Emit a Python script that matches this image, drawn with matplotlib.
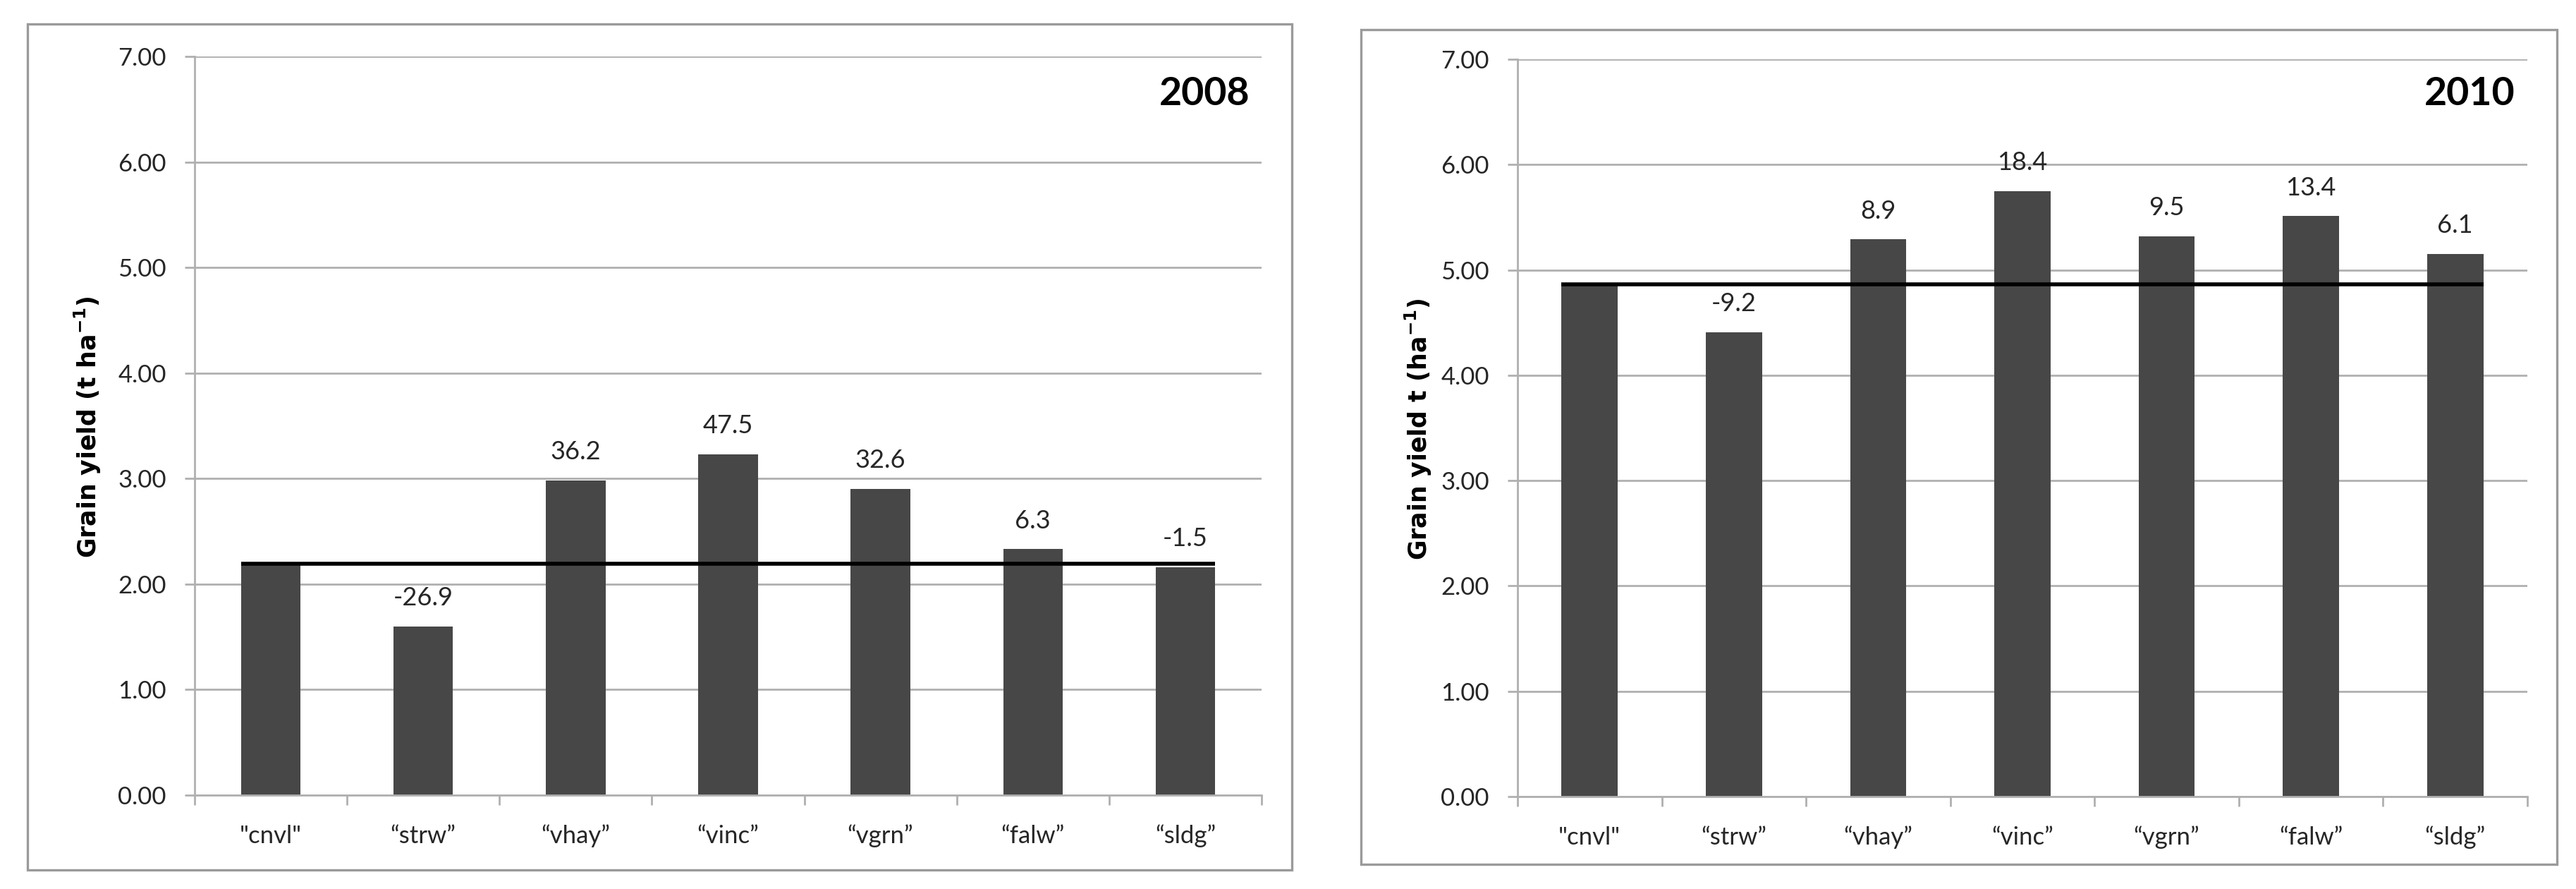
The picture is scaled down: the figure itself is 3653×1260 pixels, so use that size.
import matplotlib.pyplot as plt
from matplotlib.patches import Rectangle
from matplotlib.ticker import MultipleLocator, FixedLocator

plt.rcParams['font.family'] = ['Lato', 'DejaVu Sans']
plt.rcParams['mathtext.fontset'] = 'dejavusans'

# categories (treatments)
treatments = ['"cnvl"', '\u201cstrw\u201d', '\u201cvhay\u201d', '\u201cvinc\u201d',
              '\u201cvgrn\u201d', '\u201cfalw\u201d', '\u201csldg\u201d']

# grain yield (t/ha)
yield_2008 = [2.19, 1.60, 2.98, 3.23, 2.90, 2.33, 2.16]
yield_2010 = [4.86, 4.41, 5.29, 5.75, 5.32, 5.51, 5.15]

# percent change over the control, printed above the bars
change_2008 = ['', '-26.9', '36.2', '47.5', '32.6', '6.3', '-1.5']
change_2010 = ['', '-9.2', '8.9', '18.4', '9.5', '13.4', '6.1']

W, H = 3653, 1260
fig = plt.figure(figsize=(W / 100, H / 100), dpi=100)

GRID = '#b0b0b0'
BAR = '#474747'
TXT = '#262626'
BAR_W = 0.39


def px_rect(x0, y0, x1, y1):
    # convert pixel box (top-left origin) to figure fraction
    return [x0 / W, 1 - y1 / H, (x1 - x0) / W, (y1 - y0) / H]


def draw_panel(rect, frame, values, changes, ylabel, year, ylab_x, year_xy):
    # outer frame around the panel
    fx0, fy0, fx1, fy1 = frame
    fig.patches.append(Rectangle((fx0 / W, 1 - fy1 / H), (fx1 - fx0) / W, (fy1 - fy0) / H,
                                 transform=fig.transFigure, fill=False,
                                 edgecolor='#9a9a9a', linewidth=2.4))

    ax = fig.add_axes(px_rect(*rect))
    x = list(range(len(values)))
    ax.bar(x, values, width=BAR_W, color=BAR, linewidth=0, zorder=2)

    # control level line
    ax.hlines(values[0], x[0] - BAR_W / 2, x[-1] + BAR_W / 2, color='black',
              linewidth=4, zorder=3)

    for xi, v, c in zip(x, values, changes):
        if c:
            ax.annotate(c, (xi, v), xytext=(0, 29), textcoords='offset points',
                        ha='center', va='center', fontsize=26, color=TXT)

    ax.set_xlim(-0.5, len(values) - 0.5)
    ax.set_ylim(0, 7)
    ax.yaxis.set_major_locator(MultipleLocator(1))
    ax.yaxis.set_major_formatter(lambda v, p: f'{v:.2f}')
    ax.grid(axis='y', color=GRID, linewidth=2)
    ax.set_axisbelow(True)

    ax.set_xticks(x)
    ax.set_xticklabels(treatments)
    ax.xaxis.set_minor_locator(FixedLocator([i - 0.5 for i in range(len(values) + 1)]))
    ax.tick_params(axis='x', which='major', length=0, pad=30, labelsize=25, labelcolor=TXT)
    ax.tick_params(axis='x', which='minor', length=10, width=2, color=GRID)
    ax.tick_params(axis='y', length=10, width=2, color=GRID, pad=19, labelsize=25,
                   labelcolor=TXT)

    for s in ['top', 'right']:
        ax.spines[s].set_visible(False)
    for s in ['left', 'bottom']:
        ax.spines[s].set_color(GRID)
        ax.spines[s].set_linewidth(2)

    ax.text(ylab_x, 0.498, ylabel, transform=ax.transAxes, rotation=90,
            ha='center', va='center', fontsize=25, fontweight='bold',
            family='DejaVu Sans', color='black')
    ax.text(year_xy[0], year_xy[1], year, transform=ax.transAxes, ha='center',
            va='center', fontsize=40, fontweight='bold', color='black')
    return ax


draw_panel((276, 80, 1789, 1127), (39, 34, 1832, 1233), yield_2008, change_2008,
           r'Grain yield (t ha$^{\mathbf{-1}}$)', '2008', -0.1005, (0.9465, 0.949))
draw_panel((2152, 84, 3584, 1129), (1930, 42, 3626, 1225), yield_2010, change_2010,
           r'Grain yield t (ha$^{\mathbf{-1}}$)', '2010', -0.0985, (0.9427, 0.953))

fig.savefig('out.png', dpi=100)
